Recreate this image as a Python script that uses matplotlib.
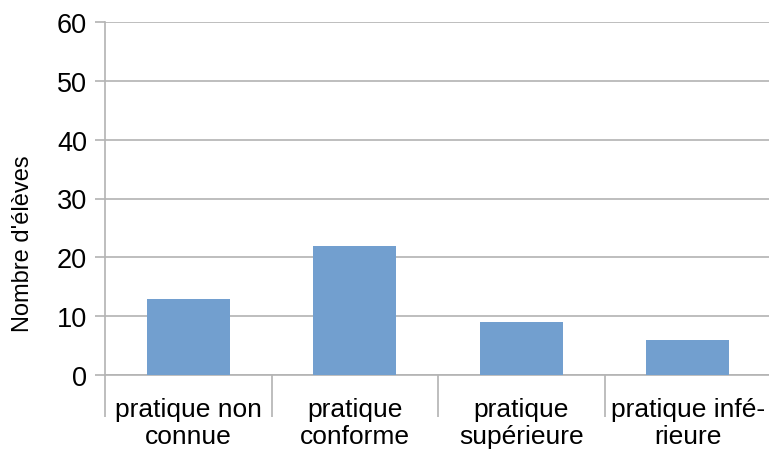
import matplotlib
matplotlib.use("Agg")
import matplotlib.pyplot as plt
import numpy as np

categories = ["pratique non\nconnue", "pratique\nconforme", "pratique\nsupérieure", "pratique infé-\nrieure"]
values = [13, 22, 9, 6]
yticks = [0, 10, 20, 30, 40, 50, 60]
ylabel = "Nombre d'élèves"

plt.rcParams['font.family'] = ['Liberation Sans', 'DejaVu Sans']

fig = plt.figure(figsize=(7.69, 4.52), dpi=100)
ax = fig.add_axes([105/769, 1-376/452, 666/769, (376-23)/452])

x = np.arange(len(categories))
ax.bar(x, values, width=0.5, color="#729fcf", zorder=3)
ax.set_xlim(-0.5, len(categories) - 0.5)
ax.set_ylim(0, 60)
ax.set_yticks(yticks)
ax.grid(axis='y', color='#b3b3b3', linewidth=1.2, zorder=0)

for s in ['top', 'right']:
    ax.spines[s].set_visible(False)
for s in ['left', 'bottom']:
    ax.spines[s].set_color('#b3b3b3')
    ax.spines[s].set_linewidth(1.2)

ax.set_xticks(np.arange(len(categories) + 1) - 0.5)
ax.set_xticklabels([])
ax.set_xticks(x, minor=True)
ax.set_xticklabels(categories, minor=True, fontsize=19, linespacing=1.12)
ax.tick_params(axis='x', which='major', length=30, width=1.2, color='#b3b3b3')
ax.tick_params(axis='x', which='minor', length=0, pad=16)
ax.tick_params(axis='y', length=7, width=1.2, color='#b3b3b3', labelsize=19.5, pad=6)
fig.text(23/769, 1-244/452, ylabel, rotation=90, ha='center', va='center', fontsize=17)

fig.savefig("out.png", dpi=100)
